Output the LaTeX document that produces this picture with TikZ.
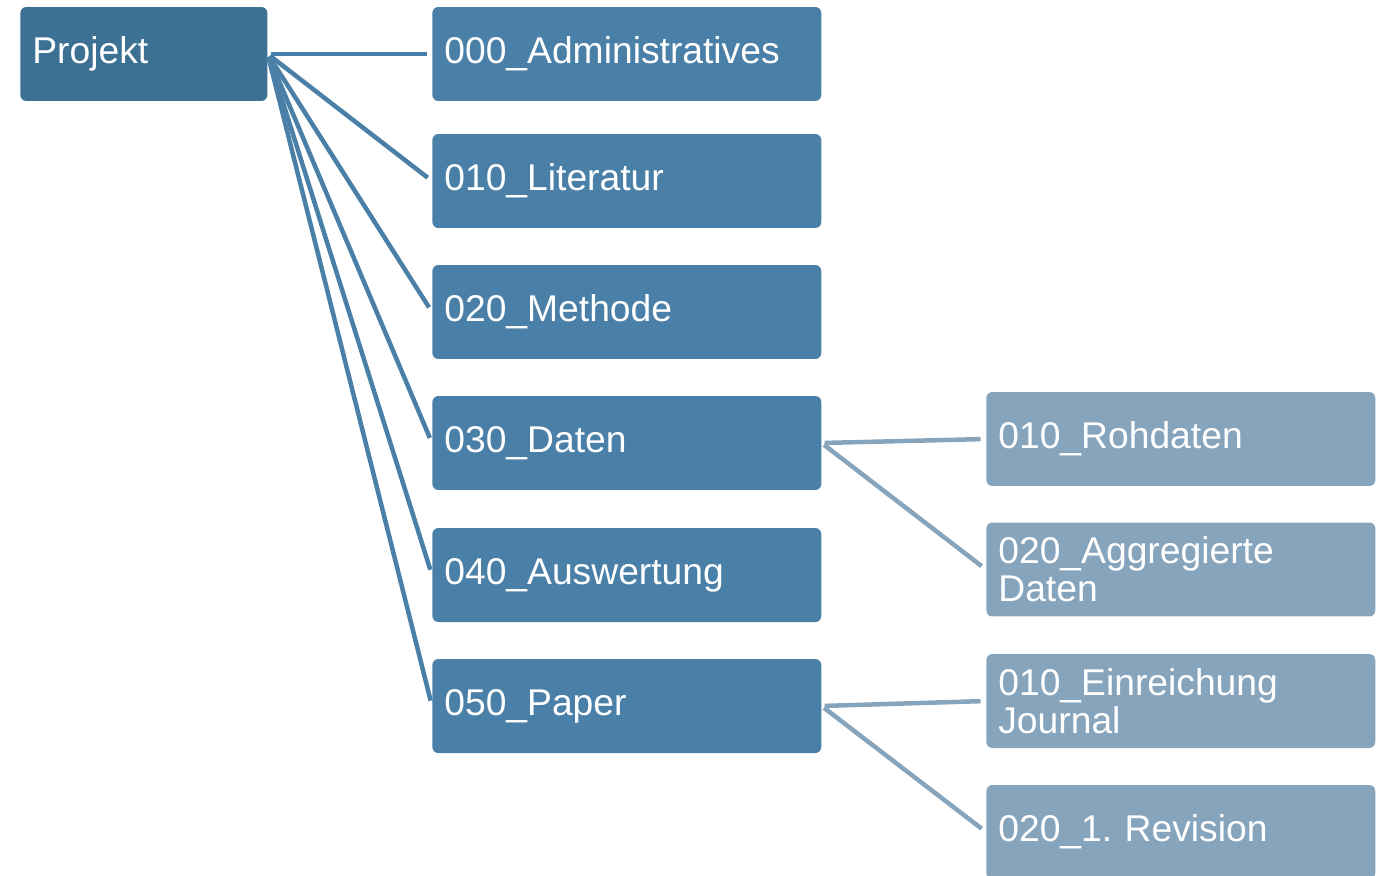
\documentclass[tikz,border=0pt]{standalone}
\usepackage{fontspec}
\setmainfont{Liberation Sans}
\frenchspacing
\definecolor{projblue}{HTML}{3C7194}
\definecolor{dirblue}{HTML}{4A80A8}
\definecolor{subblue}{HTML}{87A4BD}

\begin{document}
\begin{tikzpicture}[x = .02cm, y = -.02cm,
    box/.style = {rectangle, rounded corners = .12cm, anchor = west,
      minimum height = 1.88cm, inner xsep = .24cm, inner ysep = 0pt,
      text = white, align = left,
      font = \fontsize{21.2}{21.8}\selectfont},
    folder/.style = {box, fill = dirblue, text width = 7.3cm},
    subfolder/.style = {box, fill = subblue, text width = 7.3cm},
    link/.style = {line width = .09cm, shorten < = .06cm,
      shorten > = .11cm}]
  \useasboundingbox (0,0) rectangle (1388,875);
  % root folder
  \node [box, fill = projblue, text width = 4.46cm] (proj) at (20,54) {Projekt};
  % first level
  \foreach \name/\y/\label in {adm/54/000\_Administratives,
      lit/181/010\_Literatur, meth/312/020\_Methode, dat/443/030\_Daten,
      ausw/575/040\_Auswertung, pap/706/050\_Paper}
    {
      \node [folder] (\name) at (432,\y) {\label};
      \draw [link, dirblue] (proj.east) -- (\name.west);
    }
  % second level
  \node [subfolder] (raw) at (986,439) {010\_Rohdaten};
  \node [subfolder] (agg) at (986,569.5) {020\_Aggregierte\\Daten};
  \node [subfolder] (einr) at (986,701) {010\_Einreichung\\Journal};
  \node [subfolder] (rev) at (986,832) {020\_1. Revision};
  \foreach \from/\to in {dat/raw, dat/agg, pap/einr, pap/rev}
    \draw [link, subblue] (\from.east) -- (\to.west);
\end{tikzpicture}
\end{document}
